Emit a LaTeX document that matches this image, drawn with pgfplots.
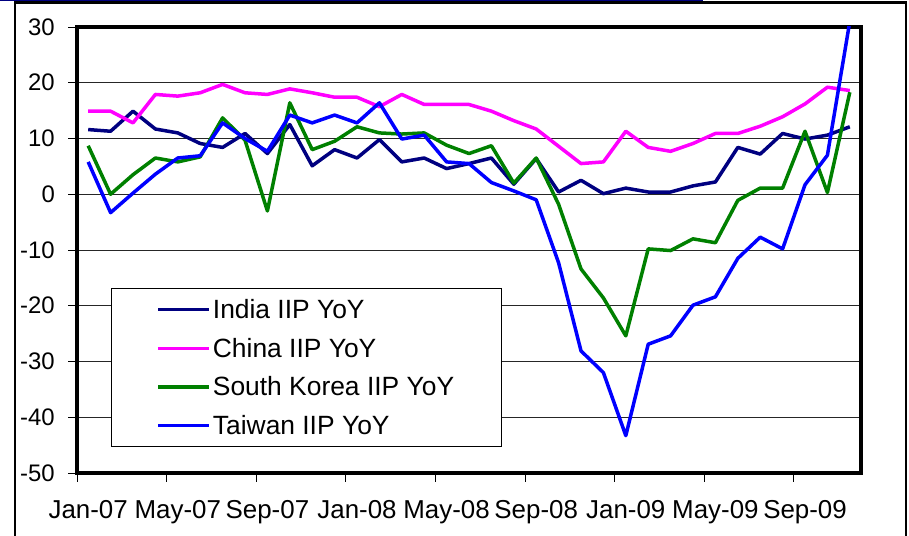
\documentclass[border=0pt]{standalone}
\usepackage{fontspec}
\setmainfont{Liberation Sans}
\usepackage{pgfplots}
\usepackage{pgfplotstable}
\pgfplotsset{compat=1.18}
\definecolor{indiac}{RGB}{0,0,128}
\definecolor{chinac}{RGB}{255,0,255}
\definecolor{koreac}{RGB}{0,128,0}
\definecolor{taiwanc}{RGB}{0,0,255}
\pgfplotstableread{
m india china korea taiwan
0 11.6 14.9 8.7 5.8
1 11.3 14.9 0.0 -3.3
2 14.9 12.8 3.5 0.2
3 11.7 17.9 6.5 3.6
4 11.0 17.6 5.8 6.5
5 9.1 18.2 6.7 6.9
6 8.4 19.7 13.7 12.8
7 10.9 18.2 9.7 10.0
8 7.3 17.9 -3.0 7.7
9 12.5 18.9 16.4 14.2
10 5.1 18.2 8.0 12.8
11 8.0 17.4 9.5 14.2
12 6.5 17.4 12.1 12.8
13 9.8 15.7 11.0 16.4
14 5.8 17.9 10.8 9.9
15 6.5 16.1 11.0 10.6
16 4.6 16.1 8.8 5.8
17 5.5 16.1 7.3 5.5
18 6.5 14.9 8.7 2.1
19 1.8 13.2 2.0 0.6
20 6.4 11.7 6.5 -1.0
21 0.4 8.6 -1.8 -12.3
22 2.5 5.5 -13.4 -28.1
23 0.1 5.8 -18.6 -32.0
24 1.1 11.3 -25.4 -43.3
25 0.4 8.4 -9.8 -26.9
26 0.4 7.7 -10.1 -25.4
27 1.5 9.1 -8.0 -19.9
28 2.2 10.9 -8.7 -18.4
29 8.4 10.9 -1.1 -11.5
30 7.2 12.2 1.1 -7.7
31 10.9 13.9 1.1 -9.8
32 9.9 16.2 11.3 1.7
33 10.6 19.2 0.3 7.0
34 12.1 18.6 18.3 31.0
}\datatable
\begin{document}
\begin{tikzpicture}[x=1bp,y=1bp]
\useasboundingbox (0,0) rectangle (909,536);
\begin{axis}[
  at={(77bp,63bp)}, anchor=south west,
  scale only axis, width=784bp, height=446bp,
  xmin=-0.5, xmax=34.5, ymin=-50, ymax=30,
  xtick={0,4,...,32},
  xticklabels={Jan-07,May-07,Sep-07,Jan-08,May-08,Sep-08,Jan-09,May-09,Sep-09},
  minor xtick={-0.5,3.5,...,31.5},
  ytick={-50,-40,...,30},
  yticklabels={-50,-40,-30,-20,-10,0,10,20,30},
  tick align=outside, major tick length=9bp, minor tick length=9bp,
  xtick pos=left, ytick pos=left,
  major x tick style={draw=none},
  tick style={black, line width=0.9bp},
  ymajorgrids, grid style={black!85, line width=0.9bp},
  axis line style={line width=3.8bp},
  xticklabel style={font=\fontsize{26}{30}\selectfont, anchor=north, inner sep=0pt, yshift=-18bp},
  yticklabel style={font=\fontsize{24}{28}\selectfont, anchor=east, inner sep=0pt, xshift=-13bp},
  legend style={at={(rel axis cs:0.0434,0.4148)}, anchor=north west, draw=black, line width=0.8bp,
    fill=white, font=\fontsize{26.5}{30}\selectfont, inner xsep=45bp, inner ysep=9bp, row sep=14bp,
    nodes={inner sep=2bp}},
  legend cell align=left,
  legend image code/.code={\draw[#1] (0bp,0bp) -- (51bp,0bp);},
  every axis plot/.append style={line width=3.5bp, line join=round, no markers},
]
\addplot[indiac] table[x=m, y=india]{\datatable};
\addlegendentry{India IIP YoY}
\addplot[chinac] table[x=m, y=china]{\datatable};
\addlegendentry{China IIP YoY}
\addplot[koreac] table[x=m, y=korea]{\datatable};
\addlegendentry{South Korea IIP YoY}
\addplot[taiwanc] table[x=m, y=taiwan]{\datatable};
\addlegendentry{Taiwan IIP YoY}
\end{axis}
\draw[line width=2.5bp] (15,0) -- (15,533.5) -- (906,533.5) -- (906,0);
\draw[indiac, line width=1.5bp] (0,535.5) -- (703,535.5);
\end{tikzpicture}
\end{document}
